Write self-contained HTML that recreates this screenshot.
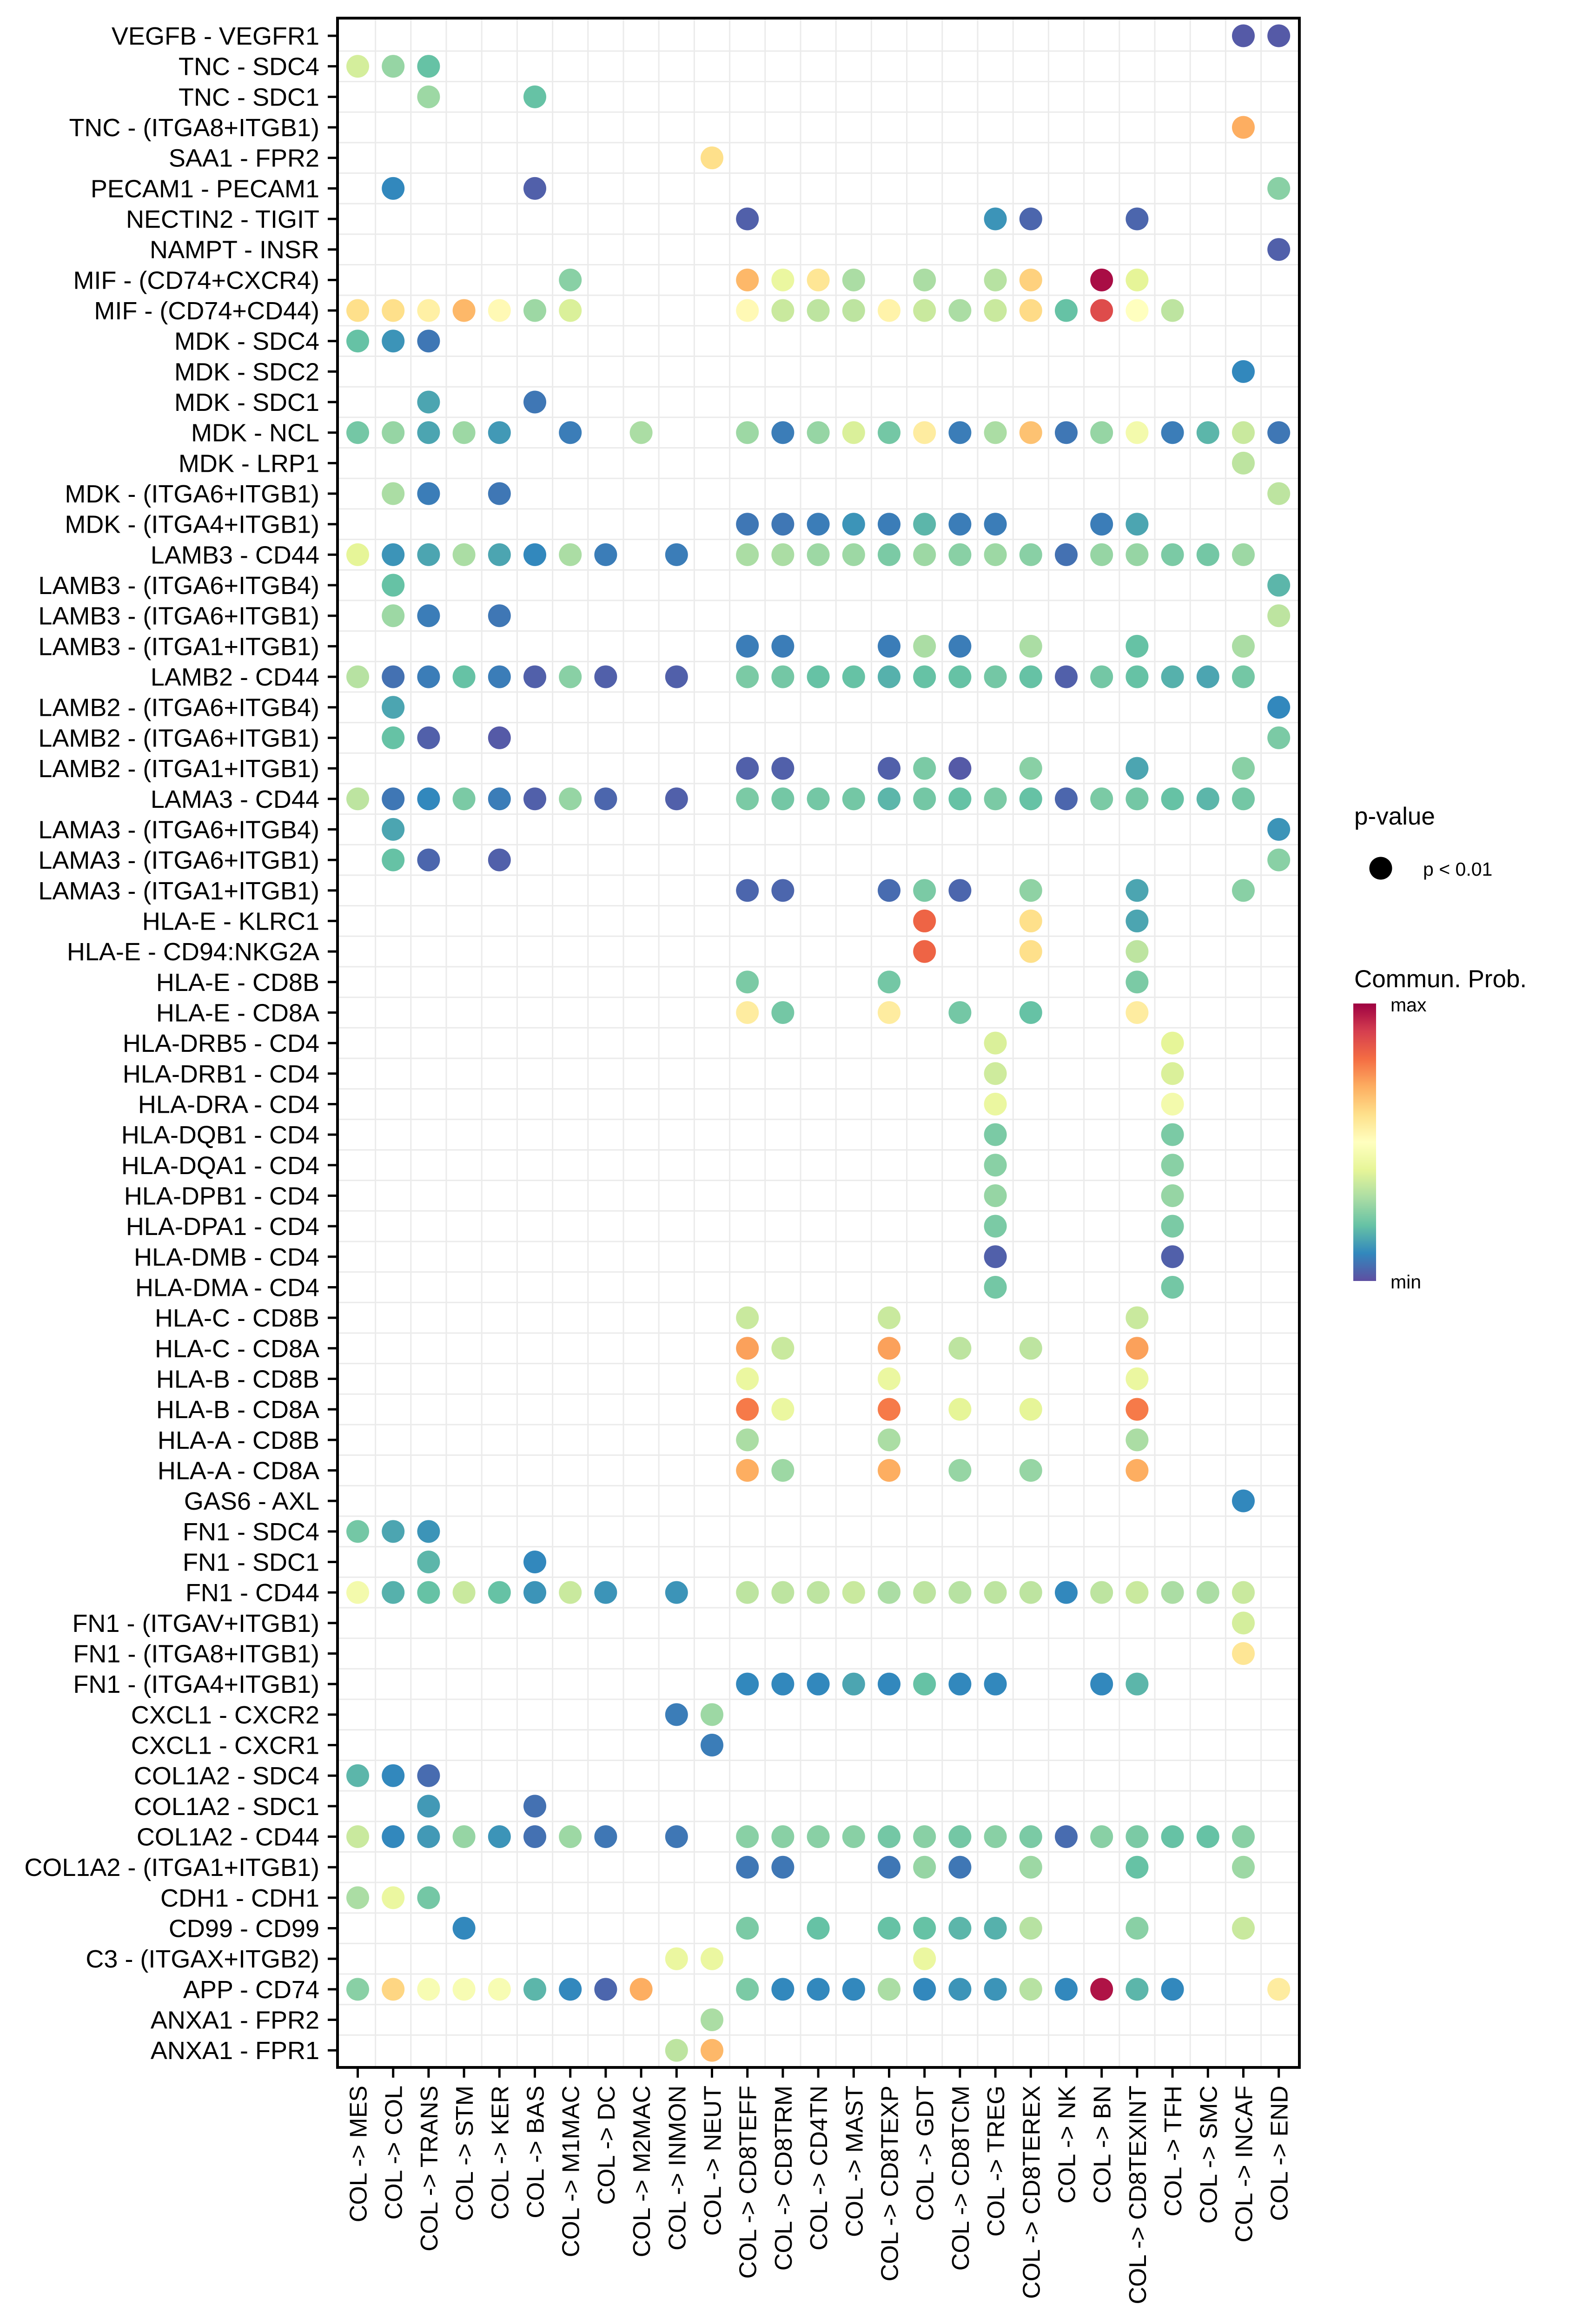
<!DOCTYPE html>
<html><head><meta charset="utf-8"><style>
html,body{margin:0;background:#fff;width:3375px;height:5024px;overflow:hidden;}
svg{display:block;font-family:"Liberation Sans",sans-serif;}
</style></head><body>
<svg id="chart" width="3375" height="5024" viewBox="0 0 3375 5024" xmlns="http://www.w3.org/2000/svg">
<defs><linearGradient id="spec" x1="0" y1="1" x2="0" y2="0">
<stop offset="0" stop-color="#5E4FA2"/><stop offset="0.1" stop-color="#3288BD"/><stop offset="0.2" stop-color="#66C2A5"/><stop offset="0.3" stop-color="#ABDDA4"/><stop offset="0.4" stop-color="#E6F598"/><stop offset="0.5" stop-color="#FFFFBF"/><stop offset="0.6" stop-color="#FEE08B"/><stop offset="0.7" stop-color="#FDAE61"/><stop offset="0.8" stop-color="#F46D43"/><stop offset="0.9" stop-color="#D53E4F"/><stop offset="1" stop-color="#9E0142"/></linearGradient></defs>
<g id="grid"></g>
<g id="dots"></g>
<g id="axes"></g>
<g>
<text x="2913" y="1774" font-size="53">p-value</text>
<circle cx="2970" cy="1868" r="24.5" fill="#000"/>
<text x="3061" y="1884" font-size="41">p &lt; 0.01</text>
<text x="2913" y="2124" font-size="53">Commun. Prob.</text>
<rect x="2911" y="2159" width="49" height="597" fill="url(#spec)"/>
<text x="2991" y="2176" font-size="41">max</text>
<text x="2991" y="2772" font-size="41">min</text>
</g>
</svg>
<script>
const rows=["VEGFB - VEGFR1","TNC - SDC4","TNC - SDC1","TNC - (ITGA8+ITGB1)","SAA1 - FPR2","PECAM1 - PECAM1","NECTIN2 - TIGIT","NAMPT - INSR","MIF - (CD74+CXCR4)","MIF - (CD74+CD44)","MDK - SDC4","MDK - SDC2","MDK - SDC1","MDK - NCL","MDK - LRP1","MDK - (ITGA6+ITGB1)","MDK - (ITGA4+ITGB1)","LAMB3 - CD44","LAMB3 - (ITGA6+ITGB4)","LAMB3 - (ITGA6+ITGB1)","LAMB3 - (ITGA1+ITGB1)","LAMB2 - CD44","LAMB2 - (ITGA6+ITGB4)","LAMB2 - (ITGA6+ITGB1)","LAMB2 - (ITGA1+ITGB1)","LAMA3 - CD44","LAMA3 - (ITGA6+ITGB4)","LAMA3 - (ITGA6+ITGB1)","LAMA3 - (ITGA1+ITGB1)","HLA-E - KLRC1","HLA-E - CD94:NKG2A","HLA-E - CD8B","HLA-E - CD8A","HLA-DRB5 - CD4","HLA-DRB1 - CD4","HLA-DRA - CD4","HLA-DQB1 - CD4","HLA-DQA1 - CD4","HLA-DPB1 - CD4","HLA-DPA1 - CD4","HLA-DMB - CD4","HLA-DMA - CD4","HLA-C - CD8B","HLA-C - CD8A","HLA-B - CD8B","HLA-B - CD8A","HLA-A - CD8B","HLA-A - CD8A","GAS6 - AXL","FN1 - SDC4","FN1 - SDC1","FN1 - CD44","FN1 - (ITGAV+ITGB1)","FN1 - (ITGA8+ITGB1)","FN1 - (ITGA4+ITGB1)","CXCL1 - CXCR2","CXCL1 - CXCR1","COL1A2 - SDC4","COL1A2 - SDC1","COL1A2 - CD44","COL1A2 - (ITGA1+ITGB1)","CDH1 - CDH1","CD99 - CD99","C3 - (ITGAX+ITGB2)","APP - CD74","ANXA1 - FPR2","ANXA1 - FPR1"];
const cols=["MES","COL","TRANS","STM","KER","BAS","M1MAC","DC","M2MAC","INMON","NEUT","CD8TEFF","CD8TRM","CD4TN","MAST","CD8TEXP","GDT","CD8TCM","TREG","CD8TEREX","NK","BN","CD8TEXINT","TFH","SMC","INCAF","END"];
// values per row: [columnIndex, scaled prob 0..1]
const values=[
[[25,.02],[26,.02]],
[[0,.37],[1,.27],[2,.2]],
[[2,.28],[5,.2]],
[[25,.7]],
[[10,.6]],
[[1,.1],[5,.03],[26,.25]],
[[11,.03],[18,.12],[19,.04],[22,.04]],
[[26,.03]],
[[6,.25],[11,.68],[12,.42],[13,.58],[14,.3],[16,.3],[18,.32],[19,.63],[21,.98],[22,.4]],
[[0,.6],[1,.6],[2,.55],[3,.68],[4,.52],[5,.28],[6,.38],[11,.52],[12,.35],[13,.33],[14,.33],[15,.54],[16,.35],[17,.3],[18,.35],[19,.61],[20,.2],[21,.87],[22,.5],[23,.33]],
[[0,.2],[1,.12],[2,.07]],
[[25,.1]],
[[2,.15],[5,.07]],
[[0,.22],[1,.27],[2,.15],[3,.28],[4,.13],[6,.08],[8,.3],[11,.28],[12,.08],[13,.27],[14,.38],[15,.22],[16,.56],[17,.08],[18,.3],[19,.66],[20,.07],[21,.27],[22,.45],[23,.08],[24,.18],[25,.35],[26,.07]],
[[25,.33]],
[[1,.3],[2,.08],[4,.07],[26,.33]],
[[11,.07],[12,.07],[13,.08],[14,.12],[15,.08],[16,.18],[17,.08],[18,.08],[21,.08],[22,.15]],
[[0,.4],[1,.12],[2,.15],[3,.3],[4,.15],[5,.1],[6,.3],[7,.08],[9,.08],[11,.3],[12,.3],[13,.28],[14,.28],[15,.23],[16,.28],[17,.25],[18,.28],[19,.25],[20,.06],[21,.27],[22,.27],[23,.23],[24,.22],[25,.28]],
[[1,.2],[26,.18]],
[[1,.28],[2,.08],[4,.07],[26,.33]],
[[11,.08],[12,.08],[15,.08],[16,.3],[17,.08],[19,.3],[22,.2],[25,.3]],
[[0,.32],[1,.06],[2,.08],[3,.2],[4,.08],[5,.03],[6,.25],[7,.03],[9,.03],[11,.23],[12,.22],[13,.2],[14,.2],[15,.17],[16,.2],[17,.2],[18,.22],[19,.2],[20,.03],[21,.22],[22,.2],[23,.17],[24,.15],[25,.22]],
[[1,.15],[26,.1]],
[[1,.2],[2,.03],[4,.02],[26,.23]],
[[11,.03],[12,.03],[15,.03],[16,.23],[17,.02],[19,.25],[22,.15],[25,.25]],
[[0,.33],[1,.07],[2,.1],[3,.23],[4,.08],[5,.03],[6,.27],[7,.04],[9,.03],[11,.23],[12,.22],[13,.22],[14,.22],[15,.18],[16,.22],[17,.2],[18,.23],[19,.2],[20,.04],[21,.23],[22,.22],[23,.2],[24,.18],[25,.22]],
[[1,.15],[26,.12]],
[[1,.2],[2,.04],[4,.03],[26,.25]],
[[11,.04],[12,.04],[15,.05],[16,.23],[17,.04],[19,.26],[22,.15],[25,.25]],
[[16,.82],[19,.6],[22,.15]],
[[16,.82],[19,.6],[22,.33]],
[[11,.23],[15,.22],[22,.23]],
[[11,.56],[12,.22],[15,.56],[17,.22],[19,.2],[22,.56]],
[[18,.38],[23,.4]],
[[18,.36],[23,.38]],
[[18,.42],[23,.45]],
[[18,.23],[23,.23]],
[[18,.25],[23,.25]],
[[18,.27],[23,.27]],
[[18,.23],[23,.23]],
[[18,.03],[23,.03]],
[[18,.22],[23,.22]],
[[11,.35],[15,.35],[22,.35]],
[[11,.72],[12,.35],[15,.72],[17,.33],[19,.33],[22,.72]],
[[11,.42],[15,.42],[22,.42]],
[[11,.78],[12,.42],[15,.78],[17,.4],[19,.4],[22,.78]],
[[11,.3],[15,.3],[22,.3]],
[[11,.7],[12,.28],[15,.7],[17,.27],[19,.27],[22,.7]],
[[25,.1]],
[[0,.22],[1,.15],[2,.12]],
[[2,.18],[5,.1]],
[[0,.45],[1,.17],[2,.2],[3,.35],[4,.2],[5,.12],[6,.35],[7,.12],[9,.12],[11,.33],[12,.33],[13,.33],[14,.35],[15,.3],[16,.33],[17,.32],[18,.33],[19,.33],[20,.1],[21,.33],[22,.35],[23,.3],[24,.3],[25,.35]],
[[25,.37]],
[[25,.58]],
[[11,.1],[12,.1],[13,.1],[14,.15],[15,.1],[16,.2],[17,.1],[18,.1],[21,.1],[22,.18]],
[[9,.08],[10,.28]],
[[10,.08]],
[[0,.18],[1,.1],[2,.05]],
[[2,.13],[5,.06]],
[[0,.35],[1,.1],[2,.13],[3,.27],[4,.12],[5,.06],[6,.28],[7,.07],[9,.07],[11,.25],[12,.25],[13,.25],[14,.25],[15,.22],[16,.25],[17,.22],[18,.25],[19,.23],[20,.05],[21,.25],[22,.23],[23,.2],[24,.2],[25,.25]],
[[11,.07],[12,.07],[15,.07],[16,.27],[17,.07],[19,.28],[22,.2],[25,.28]],
[[0,.3],[1,.42],[2,.22]],
[[3,.1],[11,.23],[13,.2],[15,.2],[16,.2],[17,.18],[18,.17],[19,.32],[22,.25],[25,.35]],
[[9,.42],[10,.42],[16,.42]],
[[0,.25],[1,.62],[2,.47],[3,.47],[4,.47],[5,.18],[6,.1],[7,.04],[8,.7],[11,.23],[12,.1],[13,.1],[14,.1],[15,.3],[16,.1],[17,.12],[18,.12],[19,.32],[20,.1],[21,.97],[22,.18],[23,.1],[26,.56]],
[[10,.3]],
[[9,.33],[10,.68]]
];
const NS="http://www.w3.org/2000/svg";
const L=726,R=2795,T=39,B=4448;
const DX=76.2,DY=65.67;
const xS=i=>769.5+i*DX;
const yS=i=>77+i*DY;
const stops=["#5E4FA2","#3288BD","#66C2A5","#ABDDA4","#E6F598","#FFFFBF","#FEE08B","#FDAE61","#F46D43","#D53E4F","#9E0142"].map(h=>[parseInt(h.slice(1,3),16),parseInt(h.slice(3,5),16),parseInt(h.slice(5,7),16)]);
function color(v){v=Math.max(0,Math.min(1,v))*10;const i=Math.min(9,Math.floor(v)),f=v-i;const a=stops[i],b=stops[i+1];return "rgb("+a.map((c,k)=>Math.round(c+(b[k]-c)*f)).join(",")+")";}
function mk(tag,attrs,parent){const e=document.createElementNS(NS,tag);for(const k in attrs)e.setAttribute(k,attrs[k]);parent.appendChild(e);return e;}
const grid=document.getElementById("grid"),dots=document.getElementById("dots"),axes=document.getElementById("axes");
mk("rect",{x:L,y:T,width:R-L,height:B-T,fill:"#fff"},grid);
rows.forEach((r,i)=>{const y=yS(i);
 if(i<rows.length-1){
 const g=mk("line",{x1:L,x2:R,y1:y+DY/2,y2:y+DY/2,stroke:"#ebebeb","stroke-width":3},grid);
 
 
 }
 const t=mk("line",{x1:705,x2:L,y1:y,y2:y,stroke:"#000","stroke-width":5},axes);
 
 
 const tx=mk("text",{x:687,y:y+19,"text-anchor":"end","font-size":54},axes);
 tx.textContent=r;
 
 
});
cols.forEach((c,i)=>{const x=xS(i);
 if(i<cols.length-1){
 const g=mk("line",{x1:x+DX/2,x2:x+DX/2,y1:T,y2:B,stroke:"#ebebeb","stroke-width":3},grid);
 
 
 }
 const t=mk("line",{x1:x,x2:x,y1:B,y2:4470,stroke:"#000","stroke-width":5},axes);
 
 
 const tx=mk("text",{x:0,y:0,"text-anchor":"end","font-size":52,transform:"translate("+(x+19)+",4487) rotate(-90)"},axes);
 tx.textContent="COL -> "+c;
 
 
});
values.forEach((row,ri)=>row.forEach(([ci,v])=>{
 const d=mk("circle",{cx:xS(ci),cy:yS(ri),r:24.5,fill:color(v)},dots);
 
 
}));
const fr=mk("rect",{x:L,y:T,width:R-L,height:B-T,fill:"none",stroke:"#000","stroke-width":6},axes);


</script>
</body></html>
